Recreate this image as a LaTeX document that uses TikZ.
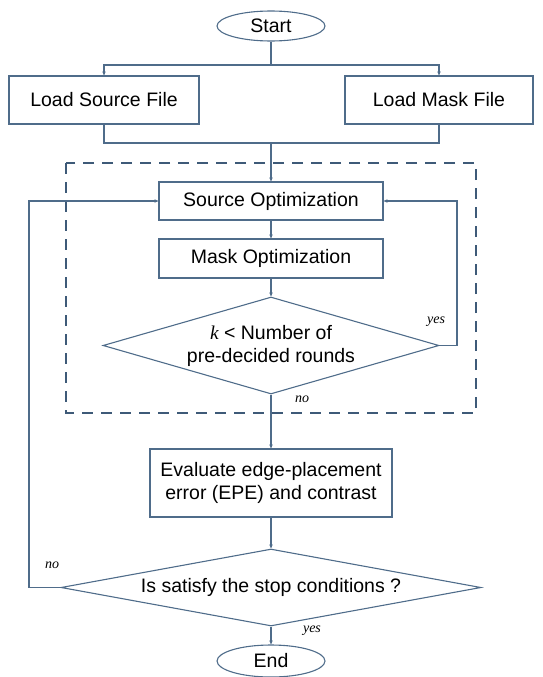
\documentclass[tikz,border=0pt]{standalone}
\usepackage{fontspec}
\setmainfont{Liberation Sans}
\newfontfamily\tmsfont{Liberation Serif}
\usetikzlibrary{shapes.geometric,arrows.meta}
\definecolor{lnc}{HTML}{4F6C8A}
\definecolor{dsh}{HTML}{3E5A78}
\begin{document}
\begin{tikzpicture}[x=1pt,y=-1pt,
  font=\fontsize{19.5}{23}\selectfont,
  box/.style={draw=lnc,line width=1.1pt,rectangle,inner sep=0pt,align=center},
  term/.style={draw=lnc,line width=1.1pt,ellipse,inner sep=0pt},
  dec/.style={draw=lnc,line width=1.1pt,diamond,inner sep=0pt,align=center},
  conn/.style={draw=lnc,line width=1.1pt},
  arr/.style={conn,-{Stealth[length=4pt,width=3.5pt]}},
  lbl/.style={font=\tmsfont\itshape\fontsize{14}{16}\selectfont,inner sep=0pt},
  dashbox/.style={draw=dsh,line width=2.4pt,dash pattern=on 11pt off 8pt}
]
\clip (0,0) rectangle (543,677);
\draw[dashbox] (66,163) rectangle (476,413);

\node[term,minimum width=108pt,minimum height=30pt] (start) at (271,26) {Start};
\node[box,minimum width=190pt,minimum height=48pt] (src) at (104,100) {Load Source File};
\node[box,minimum width=188pt,minimum height=48pt] (mask) at (439,100) {Load Mask File};
\node[box,minimum width=224pt,minimum height=38pt] (so) at (271,201) {Source Optimization};
\node[box,minimum width=224pt,minimum height=39pt] (mo) at (271,258.5) {Mask Optimization};
\node[dec,aspect=3.46,minimum width=336pt,minimum height=97pt] (d1) at (271,345.5) {{\tmsfont\itshape k} < Number of\\pre-decided rounds};
\node[box,minimum width=242pt,minimum height=68pt] (ev) at (271,483) {Evaluate edge-placement\\error (EPE) and contrast};
\node[dec,aspect=5.45,minimum width=420pt,minimum height=77pt] (d2) at (271,587.5) {Is satisfy the stop conditions ?};
\node[term,minimum width=108pt,minimum height=32pt] (end) at (271,661) {End};

\coordinate (j1) at (271,65);
\coordinate (j2) at (271,143);
\coordinate (ry) at (457,201);
\coordinate (ln) at (29,201);

\draw[conn] (start.south) -- (j1);
\draw[arr] (j1) -| (src.north);
\draw[arr] (j1) -| (mask.north);
\draw[conn] (src.south) |- (j2);
\draw[conn] (mask.south) |- (j2);
\draw[arr] (j2) -- (so.north);
\draw[arr] (so.south) -- (mo.north);
\draw[arr] (mo.south) -- (d1.north);
\draw[arr] (d1.east) -| (ry) -- (so.east);
\draw[arr] (d1.south) -- (ev.north);
\draw[arr] (ev.south) -- (d2.north);
\draw[arr] (d2.west) -| (ln) -- (so.west);
\draw[arr] (d2.south) -- (end.north);

\node[lbl] (yes1) at (436,322) {yes};
\node[lbl] (no1) at (302,399) {no};
\node[lbl] (no2) at (52,565) {no};
\node[lbl] (yes2) at (312,631) {yes};
\end{tikzpicture}
\end{document}
